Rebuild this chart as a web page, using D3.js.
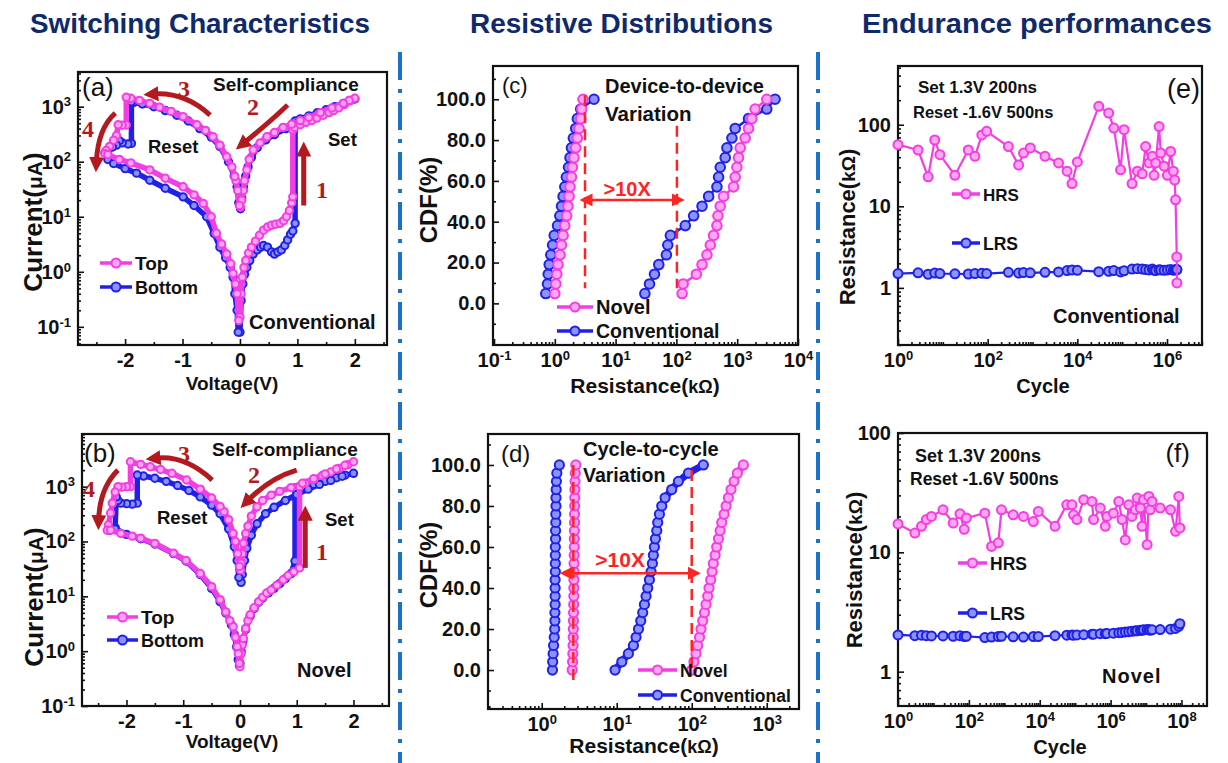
<!DOCTYPE html>
<meta charset="utf-8">
<style>
body { margin: 0; background: #fff; }
text { font-family: "Liberation Sans", Arial, sans-serif; }
.tick text { font-weight: bold; font-size: 20px; fill: #111; }
.tick line { stroke: #111; stroke-width: 1.6px; }
.frame { fill: none; stroke: #111; stroke-width: 2.2px; }
.lbl { font-weight: bold; fill: #111; }
.head { font-weight: bold; font-size: 27px; fill: #0f2a6a; }
.num { font-family: "Liberation Serif", "Times New Roman", serif; font-weight: bold; fill: #b3191f; }
</style>
<svg width="1228" height="763"></svg>
<script src="https://d3js.org/d3.v7.min.js"></script>
<script>

// (a) conventional I-V, [V, I(uA)] in sweep order
var aTop = [
 [0.00,0.15],[0.02,0.4],[0.04,0.8],[0.07,1.2],[0.10,1.6],[0.15,2.2],[0.20,2.8],[0.27,3.6],[0.34,4.6],[0.41,5.7],[0.48,6.5],[0.55,7.0],[0.62,7.3],[0.70,7.6],[0.76,8.5],[0.81,10],[0.86,13],[0.90,18],[0.92,23],
 [0.92,380],[0.95,420],[1.05,470],[1.15,520],[1.25,560],[1.34,620],[1.45,700],[1.55,780],[1.63,850],[1.72,950],[1.82,1100],[1.92,1280],[2.0,1420],
 [1.9,1300],[1.8,1150],[1.6,950],[1.4,780],[1.2,640],[1.05,560],[0.9,480],[0.75,420],[0.6,340],[0.47,285],[0.35,220],[0.23,163],[0.16,110],[0.12,71],[0.08,45],[0.06,30],[0.03,20],[0.01,15],
 [-0.01,16],[-0.04,30],[-0.07,45],[-0.09,54],[-0.14,80],[-0.23,123],[-0.35,200],[-0.47,285],[-0.6,370],[-0.75,470],[-0.99,660],[-1.2,820],[-1.4,980],[-1.57,1150],[-1.75,1300],[-1.9,1420],[-1.98,1480],
 [-1.98,465],[-2.05,460],[-2.12,470],[-2.15,300],[-2.2,245],[-2.27,190],[-2.33,160],[-2.35,140],
 [-2.3,135],[-2.1,110],[-1.9,95],[-1.57,71],[-1.3,50],[-0.99,35],[-0.8,25],[-0.64,17.5],[-0.5,10],[-0.41,5],[-0.32,3.2],[-0.23,2.1],[-0.16,1.4],[-0.12,0.93],[-0.08,0.6],[-0.05,0.4],[-0.02,0.13]
];
var aBottom = [
 [0.00,0.08],[0.02,0.3],[0.05,0.6],[0.08,0.9],[0.12,1.2],[0.17,1.6],[0.23,2.1],[0.30,2.5],[0.36,2.8],[0.41,3.0],[0.48,2.8],[0.55,2.3],[0.60,2.1],[0.66,2.3],[0.72,2.5],[0.78,3.0],[0.83,3.8],[0.88,4.8],[0.92,5.5],[0.96,7.6],
 [0.96,550],[1.05,600],[1.2,680],[1.35,780],[1.5,880],[1.65,1000],[1.8,1150],[1.92,1300],[2.0,1380],
 [1.8,1100],[1.6,900],[1.4,740],[1.2,600],[1.0,500],[0.8,400],[0.6,310],[0.45,250],[0.3,180],[0.2,120],[0.14,80],[0.1,55],[0.06,35],[0.03,22],[0.01,14],
 [-0.02,18],[-0.05,35],[-0.1,55],[-0.2,100],[-0.35,190],[-0.5,280],[-0.7,400],[-0.9,550],[-1.1,700],[-1.3,850],[-1.5,1000],[-1.7,1120],[-1.85,1200],[-1.89,1230],
 [-1.89,215],[-1.95,210],[-2.05,220],[-2.1,240],[-2.15,200],[-2.22,185],[-2.3,165],[-2.35,145],
 [-2.3,110],[-2.2,93],[-2.0,75],[-1.8,62],[-1.57,46],[-1.3,33],[-0.99,23],[-0.8,16],[-0.58,10],[-0.45,5],[-0.35,2.8],[-0.25,1.8],[-0.17,1.2],[-0.12,0.8],[-0.09,0.4],[-0.05,0.2],[-0.03,0.08]
];

// (b) novel I-V
var bTop = [
 [0.0,0.52],[0.02,0.9],[0.04,1.3],[0.06,1.7],[0.1,2.6],[0.14,3.6],[0.18,4.6],[0.25,6.2],[0.33,8.0],[0.4,9.6],[0.47,11.5],[0.55,13],[0.65,16],[0.76,20],[0.85,24],[0.95,28],[1.05,33],
 [1.05,1000],[1.15,1150],[1.3,1350],[1.45,1600],[1.6,1850],[1.75,2150],[1.9,2500],[2.0,2850],
 [1.85,2450],[1.7,2100],[1.5,1700],[1.3,1400],[1.1,1150],[0.9,960],[0.7,820],[0.55,700],[0.4,560],[0.3,430],[0.2,290],[0.14,190],[0.1,140],[0.06,93],[0.04,60],[0.02,40],[0.01,30],
 [-0.01,35],[-0.04,60],[-0.08,100],[-0.12,140],[-0.2,250],[-0.28,350],[-0.35,435],[-0.5,620],[-0.7,900],[-0.94,1320],[-1.2,1750],[-1.4,2050],[-1.58,2300],[-1.75,2550],[-1.93,2850],
 [-1.93,1000],[-2.0,1000],[-2.08,980],[-2.15,1000],[-2.2,800],[-2.25,500],[-2.28,330],[-2.32,200],[-2.34,160],
 [-2.28,160],[-2.1,140],[-1.9,125],[-1.75,115],[-1.5,92],[-1.17,61],[-0.95,45],[-0.7,26],[-0.5,15],[-0.35,8.7],[-0.25,5.2],[-0.18,3.6],[-0.12,2.8],[-0.08,1.8],[-0.05,1.2],[-0.03,0.9],[-0.01,0.6]
];
var bBottom = [
 [0.0,0.6],[0.02,1.0],[0.05,1.5],[0.1,2.5],[0.18,4.4],[0.25,6],[0.33,7.8],[0.4,9.3],[0.5,11.5],[0.6,14],[0.7,17],[0.8,21],[0.9,26],[0.97,44],
 [0.97,950],[1.1,1000],[1.3,1100],[1.5,1250],[1.7,1450],[1.85,1620],[2.0,1750],
 [1.8,1550],[1.6,1300],[1.4,1100],[1.2,900],[1.0,720],[0.8,560],[0.6,420],[0.45,320],[0.3,210],[0.2,130],[0.12,75],[0.08,45],[0.04,25],[0.02,18],
 [-0.02,22],[-0.05,45],[-0.1,80],[-0.2,170],[-0.35,320],[-0.5,460],[-0.7,650],[-0.9,850],[-1.1,1050],[-1.3,1250],[-1.5,1420],[-1.7,1560],[-1.81,1630],
 [-1.81,500],[-1.9,480],[-2.0,490],[-2.1,500],[-2.15,560],[-2.18,650],[-2.2,180],[-2.3,160],
 [-2.2,170],[-2.0,135],[-1.75,112],[-1.5,90],[-1.17,60],[-0.95,44],[-0.7,25],[-0.5,14],[-0.35,8],[-0.25,5],[-0.15,3],[-0.1,2],[-0.06,1.2],[-0.03,0.7],[-0.01,0.55]
];

// (c) device-to-device CDF
var cCdf = [4.8, 9.5, 14.3, 19.0, 23.8, 28.6, 33.3, 38.1, 42.9, 47.6, 52.4, 57.1, 61.9, 66.7, 71.4, 76.2, 81.0, 85.7, 90.5, 95.2, 100];
var cNovelLRS = [1.0, 1.04, 1.08, 1.13, 1.22, 1.29, 1.37, 1.46, 1.57, 1.65, 1.72, 1.78, 1.88, 1.95, 2.07, 2.21, 2.35, 2.51, 2.67, 2.77, 2.91];
var cNovelHRS = [124, 129, 213, 264, 318, 361, 409, 464, 482, 526, 597, 871, 927, 988, 1052, 1120, 1352, 1535, 1740, 1972, 3063];
var cConvLRS = [0.71, 0.76, 0.78, 0.81, 0.86, 0.92, 0.98, 1.11, 1.21, 1.29, 1.37, 1.46, 1.55, 1.68, 1.78, 1.88, 2.02, 2.21, 2.35, 2.67, 4.41];
var cConvHRS = [30.3, 36.1, 43.6, 51.3, 68.5, 72.1, 79.7, 140, 192, 264, 339, 464, 494, 526, 635, 677, 818, 927, 1535, 3063, 4199];

// (d) cycle-to-cycle CDF
var dCdf = [0, 4, 8, 12, 16, 20, 24, 28, 32, 36, 40, 44, 48, 52, 56, 60, 64, 68, 72, 76, 80, 84, 88, 92, 96, 100];
var dNovelLRS = [2.55, 2.58, 2.60, 2.62, 2.63, 2.64, 2.65, 2.66, 2.67, 2.68, 2.68, 2.69, 2.70, 2.70, 2.71, 2.72, 2.72, 2.73, 2.74, 2.74, 2.75, 2.76, 2.77, 2.78, 2.80, 2.85];
var dNovelHRS = [100, 107, 114, 120, 127, 133, 140, 148, 155, 163, 170, 179, 187, 194, 205, 215, 227, 239, 251, 270, 287, 308, 334, 367, 406, 488];
var dConvLRS = [1.39, 1.40, 1.42, 1.44, 1.47, 1.49, 1.50, 1.50, 1.51, 1.51, 1.51, 1.51, 1.52, 1.52, 1.52, 1.52, 1.53, 1.53, 1.54, 1.54, 1.55, 1.55, 1.56, 1.57, 1.59, 1.72];
var dConvHRS = [9.5, 11.7, 14.3, 16.7, 18.1, 19.5, 20.9, 22.2, 23.4, 24.6, 25.9, 27.3, 28.7, 29.9, 30.8, 31.8, 32.8, 34.2, 35.2, 37.1, 39.8, 44.1, 54.1, 66.4, 90.3, 143];

// (e) conventional endurance
var eCycle = [1, 2.8, 4.7, 6.6, 8.6, 18.6, 37, 52, 74, 95, 290, 490, 630, 890, 1900, 3800, 5900, 7600, 10000, 30000, 50000, 65000, 92000, 110000, 166000, 218000, 280000, 333000, 397000, 470000, 514000, 560000, 665000, 725000, 860000, 1.02e6, 1.2e6, 1.38e6, 1.48e6, 1.55e6, 1.65e6, 1.66e6];
var eHRS = [57, 49, 23, 65, 43, 24, 49, 41, 75, 83, 54, 32, 45, 52, 41, 34, 27, 19, 35, 168, 139, 91, 28, 87, 19, 27, 25, 54, 34, 41, 24, 34, 95, 45, 31, 24, 47, 27, 21, 12, 2.4, 1.15];
var eLRS = [1.50, 1.53, 1.47, 1.52, 1.50, 1.49, 1.48, 1.50, 1.51, 1.50, 1.55, 1.52, 1.54, 1.53, 1.55, 1.57, 1.63, 1.66, 1.64, 1.58, 1.60, 1.63, 1.57, 1.62, 1.70, 1.72, 1.70, 1.68, 1.66, 1.70, 1.65, 1.63, 1.67, 1.66, 1.64, 1.66, 1.68, 1.65, 1.66, 1.67, 1.68, 1.68];

// (f) novel endurance
var fCycle = [1, 3, 4.6, 6.3, 8.8, 18.6, 36, 56, 74, 85, 282, 437, 676, 832, 1780, 3460, 6600, 9100, 27000, 58000, 81000, 90000, 112000, 174000, 297000, 331000, 510000, 708000, 790000, 1.2e6, 1.7e6, 2.1e6, 2.6e6, 3.24e6, 4e6, 5e6, 5.6e6, 6.9e6, 7.7e6, 8.5e6, 1.07e7, 1.2e7, 1.3e7, 1.48e7, 2.5e7, 4.9e7, 6.8e7, 8.4e7, 9e7];
var fHRS = [17.3, 14.5, 16.5, 18.8, 20, 22.7, 17.6, 21, 15.6, 19.4, 21.3, 11.2, 12, 22.7, 20.6, 20, 18.1, 22, 16.5, 25, 25, 20.6, 18.8, 27.6, 26.7, 18.8, 23.5, 16.5, 20, 21.3, 26.7, 18.8, 12.7, 25, 20, 22.7, 28.5, 23.5, 16.5, 27.6, 11.6, 29.4, 22.7, 26.7, 23.5, 22.7, 15, 29.4, 16];
var fLRS = [2.03, 2.0, 2.02, 2.0, 1.99, 1.99, 1.98, 2.0, 1.97, 1.98, 1.93, 1.95, 1.97, 1.98, 1.96, 1.95, 1.97, 1.97, 2.0, 2.02, 2.03, 2.02, 2.03, 2.04, 2.06, 2.06, 2.08, 2.08, 2.09, 2.1, 2.12, 2.13, 2.15, 2.16, 2.18, 2.2, 2.2, 2.22, 2.22, 2.24, 2.25, 2.25, 2.22, 2.24, 2.25, 2.27, 2.3, 2.4, 2.52];

var pink = "#f23ee2", pinkIn = "#ffa6f1",
    blue = "#2020e6", blueIn = "#8c93ff",
    dark = "#b3191f", red = "#ff2424";

var svg = d3.select("svg");

var defs = svg.append("defs");
function arrowHead(id, col, w) {
  defs.append("marker").attr("id", id)
      .attr("viewBox", "0 0 10 10").attr("refX", 3).attr("refY", 5)
      .attr("markerUnits", "userSpaceOnUse").attr("markerWidth", w).attr("markerHeight", w)
      .attr("orient", "auto-start-reverse")
    .append("path").attr("d", "M0,0 L10,5 L0,10 z").attr("fill", col);
}
arrowHead("ahDark", dark, 15);
arrowHead("ahRed", red, 13);

// headings
[["Switching Characteristics", 30, 340], ["Resistive Distributions", 470, 303], ["Endurance performances", 862, 350]]
  .forEach(function(h) {
    svg.append("text").attr("class", "head").attr("x", h[1]).attr("y", 33)
       .attr("textLength", h[2]).attr("lengthAdjust", "spacingAndGlyphs").text(h[0]);
  });

// dash-dot separators
[400, 818].forEach(function(x) {
  svg.append("line").attr("x1", x).attr("x2", x).attr("y1", 52).attr("y2", 763)
     .attr("stroke", "#1b73c9").attr("stroke-width", 4).attr("stroke-dasharray", "28,9,4,9");
});

function logMinors(lo, hi) {
  var out = [];
  for (var k = Math.floor(Math.log10(lo)); k <= Math.ceil(Math.log10(hi)); k++)
    for (var m = 2; m <= 9; m++) {
      var v = m * Math.pow(10, k);
      if (v > lo && v < hi) out.push(v);
    }
  return out;
}

function supLabels(ax, small) {
  ax.selectAll(".tick text").text(null).each(function(d) {
    var t = d3.select(this);
    t.append("tspan").text("10");
    t.append("tspan").attr("dy", "-0.55em").style("font-size", (small || 13) + "px").text(Math.round(Math.log10(d)));
  });
}

function panel(box, x, y) {
  var g = svg.append("g");
  x.range([box.x0, box.x1]);
  y.range([box.y1, box.y0]);
  return { g: g, box: box, x: x, y: y };
}

function axes(p, o) {
  var b = p.box;
  p.g.append("g").attr("transform", "translate(0," + b.y1 + ")")
    .call(d3.axisBottom(p.x).tickValues(o.xMin).tickSize(-3).tickFormat(""))
    .call(function(a) { a.select(".domain").remove(); });
  var xa = p.g.append("g").attr("transform", "translate(0," + b.y1 + ")")
    .call(d3.axisBottom(p.x).tickValues(o.xMaj).tickSize(-6).tickPadding(8).tickFormat(o.xFmt || String))
    .call(function(a) { a.select(".domain").remove(); });
  p.g.append("g").attr("transform", "translate(" + b.x0 + ",0)")
    .call(d3.axisLeft(p.y).tickValues(o.yMin).tickSize(-3).tickFormat(""))
    .call(function(a) { a.select(".domain").remove(); });
  var ya = p.g.append("g").attr("transform", "translate(" + b.x0 + ",0)")
    .call(d3.axisLeft(p.y).tickValues(o.yMaj).tickSize(-6).tickPadding(7).tickFormat(o.yFmt || String))
    .call(function(a) { a.select(".domain").remove(); });
  if (o.xLog) supLabels(xa);
  if (o.yLog) supLabels(ya);
  p.g.append("rect").attr("class", "frame")
    .attr("x", b.x0).attr("y", b.y0).attr("width", b.x1 - b.x0).attr("height", b.y1 - b.y0);
}

function series(p, pts, col, light, lw, r) {
  var line = d3.line().x(function(d) { return p.x(d[0]); }).y(function(d) { return p.y(d[1]); });
  p.g.append("path").datum(pts).attr("d", line)
    .attr("fill", "none").attr("stroke", col).attr("stroke-width", lw).attr("stroke-linejoin", "round");
  p.g.append("g").selectAll("circle").data(pts).join("circle")
    .attr("cx", function(d) { return p.x(d[0]); })
    .attr("cy", function(d) { return p.y(d[1]); })
    .attr("r", r).attr("fill", light).attr("stroke", col).attr("stroke-width", 2);
}

function zip(a, b) { return a.map(function(v, i) { return [v, b[i]]; }); }

function label(p, txt, x, y, size, opt) {
  opt = opt || {};
  return p.g.append("text").attr("class", opt.cls || "lbl").attr("x", x).attr("y", y)
    .attr("text-anchor", opt.anchor || "start")
    .style("font-size", size + "px").style("font-weight", opt.normal ? "normal" : null).text(txt);
}

function legendItem(p, x0, x1, y, col, light, txt, size) {
  p.g.append("line").attr("x1", x0).attr("x2", x1).attr("y1", y).attr("y2", y).attr("stroke", col).attr("stroke-width", 3.5);
  p.g.append("circle").attr("cx", (x0 + x1) / 2).attr("cy", y).attr("r", 4.5).attr("fill", light).attr("stroke", col).attr("stroke-width", 2);
  label(p, txt, x1 + 3, y + 7, size);
}

function yTitle(x, y, main, unit, size, usize) {
  var t = svg.append("text").attr("class", "lbl").attr("text-anchor", "middle")
    .attr("transform", "translate(" + x + "," + y + ") rotate(-90)").style("font-size", size + "px");
  t.append("tspan").text(main + "(");
  t.append("tspan").style("font-size", usize + "px").text(unit);
  t.append("tspan").text(")");
}

function xTitle(x, y, main, unit, size, usize) {
  var t = svg.append("text").attr("class", "lbl").attr("text-anchor", "middle")
    .attr("x", x).attr("y", y).style("font-size", size + "px");
  t.append("tspan").text(main + (unit ? "(" : ""));
  if (unit) {
    t.append("tspan").style("font-size", usize + "px").text(unit);
    t.append("tspan").text(")");
  }
}

function curveArrow(p, a, c, b, col, mk, w) {
  var d = "M" + p.x(a[0]) + "," + p.y(a[1]) + " Q" + p.x(c[0]) + "," + p.y(c[1]) + " " + p.x(b[0]) + "," + p.y(b[1]);
  p.g.append("path").attr("d", d).attr("fill", "none").attr("stroke", col)
    .attr("stroke-width", w).attr("marker-end", "url(#" + mk + ")");
}

var ivMinX = [-2.5, -1.5, -0.5, 0.5, 1.5, 2.5];

// ---------- (a)
var pa = panel({ x0: 78, x1: 387, y0: 72, y1: 345 },
  d3.scaleLinear().domain([-2.82, 2.56]), d3.scaleLog().domain([Math.pow(10, -1.33), Math.pow(10, 3.63)]));
axes(pa, { xMaj: [-2, -1, 0, 1, 2], xMin: ivMinX, yMaj: [0.1, 1, 10, 100, 1000], yMin: logMinors(pa.y.domain()[0], pa.y.domain()[1]), yLog: true });
series(pa, aBottom, blue, blueIn, 5.5, 3.7);
series(pa, aTop, pink, pinkIn, 5.5, 3.7);
curveArrow(pa, [1.11, 16], [1.11, 60], [1.11, 150], dark, "ahDark", 5);
curveArrow(pa, [0.83, 1070], [0.52, 525], [0.07, 220], dark, "ahDark", 5);
curveArrow(pa, [-0.52, 700], [-0.96, 1850], [-1.5, 1700], dark, "ahDark", 5);
curveArrow(pa, [-2.17, 765], [-2.47, 410], [-2.5, 100], dark, "ahDark", 5);
label(pa, "(a)", 82, 96, 26, { normal: true });
label(pa, "Self-compliance", 213, 91, 19);
label(pa, "Reset", 148, 153, 18.5);
label(pa, "Set", 328, 146, 18.5);
label(pa, "Conventional", 249, 329, 20);
label(pa, "1", 316, 198, 24, { cls: "num" });
label(pa, "2", 247, 115, 24, { cls: "num" });
label(pa, "3", 178, 97, 24, { cls: "num" });
label(pa, "4", 82, 137, 24, { cls: "num" });
legendItem(pa, 100, 132, 263, pink, pinkIn, "Top", 19);
legendItem(pa, 100, 132, 287, blue, blueIn, "Bottom", 18);
yTitle(42, 222, "Current", "\u03bcA", 26, 21);
xTitle(232, 390, "Voltage(V)", null, 19);

// ---------- (b)
var pb = panel({ x0: 82, x1: 389, y0: 434, y1: 706 },
  d3.scaleLinear().domain([-2.784, 2.626]), d3.scaleLog().domain([0.1, Math.pow(10, 3.96)]));
axes(pb, { xMaj: [-2, -1, 0, 1, 2], xMin: ivMinX, yMaj: [0.1, 1, 10, 100, 1000], yMin: logMinors(pb.y.domain()[0], pb.y.domain()[1]), yLog: true });
series(pb, bBottom, blue, blueIn, 5.5, 3.7);
series(pb, bTop, pink, pinkIn, 5.5, 3.7);
curveArrow(pb, [1.15, 33], [1.15, 100], [1.15, 290], dark, "ahDark", 5);
curveArrow(pb, [1.0, 2000], [0.53, 1440], [0.14, 560], dark, "ahDark", 5);
curveArrow(pb, [-0.49, 1320], [-0.97, 3770], [-1.48, 3300], dark, "ahDark", 5);
curveArrow(pb, [-2.15, 2000], [-2.47, 950], [-2.49, 250], dark, "ahDark", 5);
label(pb, "(b)", 84, 462, 26, { normal: true });
label(pb, "Self-compliance", 212, 456, 19);
label(pb, "Reset", 157, 524, 18.5);
label(pb, "Set", 325, 526, 18.5);
label(pb, "Novel", 297, 677, 20);
label(pb, "1", 316, 560, 24, { cls: "num" });
label(pb, "2", 248, 483, 24, { cls: "num" });
label(pb, "3", 178, 462, 24, { cls: "num" });
label(pb, "4", 83, 497, 24, { cls: "num" });
legendItem(pb, 107, 138, 617, pink, pinkIn, "Top", 19);
legendItem(pb, 107, 138, 640, blue, blueIn, "Bottom", 18);
yTitle(43, 597, "Current", "\u03bcA", 26, 21);
xTitle(232, 748, "Voltage(V)", null, 19);

// ---------- (c)
var pc = panel({ x0: 493, x1: 798, y0: 66, y1: 345 },
  d3.scaleLog().domain([0.1, 1e4]), d3.scaleLinear().domain([-20.4, 116.3]));
pc.x.range([494, 798]);
axes(pc, { xMaj: [0.1, 1, 10, 100, 1000, 10000], xMin: logMinors(0.1, 1e4), xLog: true,
  yMaj: [0, 20, 40, 60, 80, 100], yMin: [-10, 10, 30, 50, 70, 90, 110], yFmt: d3.format(".1f") });
series(pc, zip(cConvLRS, cCdf), blue, blueIn, 2.5, 4.8);
series(pc, zip(cConvHRS, cCdf), blue, blueIn, 2.5, 4.8);
series(pc, zip(cNovelLRS, cCdf), pink, pinkIn, 2.5, 4.8);
series(pc, zip(cNovelHRS, cCdf), pink, pinkIn, 2.5, 4.8);
[[3.14, 102, 7.4], [102, 87, 7.4]].forEach(function(v) {
  pc.g.append("line").attr("x1", pc.x(v[0])).attr("x2", pc.x(v[0])).attr("y1", pc.y(v[1])).attr("y2", pc.y(v[2]))
    .attr("stroke", red).attr("stroke-width", 2.5).attr("stroke-dasharray", "11,6");
});
pc.g.append("line").attr("x1", pc.x(3.6)).attr("x2", pc.x(97)).attr("y1", pc.y(50.7)).attr("y2", pc.y(50.7))
  .attr("stroke", red).attr("stroke-width", 2.5).attr("marker-start", "url(#ahRed)").attr("marker-end", "url(#ahRed)");
label(pc, ">10X", pc.x(15.5), pc.y(52.6), 20, { anchor: "middle" }).style("fill", red);
label(pc, "(c)", 502, 93, 22, { normal: true });
label(pc, "Device-to-device", 605, 93, 20);
label(pc, "Variation", 605, 121, 20.5);
legendItem(pc, 557, 593, 307, pink, pinkIn, "Novel", 20);
legendItem(pc, 557, 593, 331, blue, blueIn, "Conventional", 19.5);
yTitle(437, 200, "CDF", "%", 24, 24);
xTitle(645, 393, "Resistance", "k\u03a9", 21, 18);

// ---------- (d)
var pd = panel({ x0: 488, x1: 799, y0: 434, y1: 709 },
  d3.scaleLog().domain([Math.pow(10, -0.716), Math.pow(10, 3.43)]), d3.scaleLinear().domain([-19, 115.1]));
axes(pd, { xMaj: [1, 10, 100, 1000], xMin: logMinors(pd.x.domain()[0], pd.x.domain()[1]), xLog: true,
  yMaj: [0, 20, 40, 60, 80, 100], yMin: [-10, 10, 30, 50, 70, 90, 110], yFmt: d3.format(".1f") });
series(pd, zip(dConvLRS, dCdf), blue, blueIn, 7, 4.6);
series(pd, zip(dConvHRS, dCdf), blue, blueIn, 7, 4.6);
series(pd, zip(dNovelLRS, dCdf), pink, pinkIn, 7, 4.6);
series(pd, zip(dNovelHRS, dCdf), pink, pinkIn, 7, 4.6);
[[2.64, 100, -6.5], [100, 97.5, 0]].forEach(function(v) {
  pd.g.append("line").attr("x1", pd.x(v[0])).attr("x2", pd.x(v[0])).attr("y1", pd.y(v[1])).attr("y2", pd.y(v[2]))
    .attr("stroke", red).attr("stroke-width", 2.5).attr("stroke-dasharray", "11,6");
});
pd.g.append("line").attr("x1", pd.x(2.3)).attr("x2", pd.x(100)).attr("y1", pd.y(47.2)).attr("y2", pd.y(47.2))
  .attr("stroke", red).attr("stroke-width", 2.5).attr("marker-start", "url(#ahRed)").attr("marker-end", "url(#ahRed)");
label(pd, ">10X", pd.x(11.1), pd.y(50.4), 21, { anchor: "middle" }).style("fill", red);
label(pd, "(d)", 501, 462, 24, { normal: true });
label(pd, "Cycle-to-cycle", 583, 456, 20);
label(pd, "Variation", 583, 482, 19.5);
legendItem(pd, 638, 677, 670, pink, pinkIn, "Novel", 17.5);
legendItem(pd, 638, 677, 695, blue, blueIn, "Conventional", 17.5);
yTitle(437, 565, "CDF", "%", 24, 24);
xTitle(644, 753, "Resistance", "k\u03a9", 21, 18);

// ---------- (e)
var pe = panel({ x0: 898, x1: 1202, y0: 66, y1: 345 },
  d3.scaleLog().domain([1, Math.pow(10, 6.78)]), d3.scaleLog().domain([Math.pow(10, -0.70), Math.pow(10, 2.72)]));
axes(pe, { xMaj: [1, 100, 1e4, 1e6], xMin: logMinors(1, Math.pow(10, 6.78)).concat([10, 1000, 1e5]), xLog: true,
  yMaj: [1, 10, 100], yMin: logMinors(pe.y.domain()[0], pe.y.domain()[1]) });
series(pe, zip(eCycle, eLRS), blue, blueIn, 2.2, 4.5);
series(pe, zip(eCycle, eHRS), pink, pinkIn, 2.2, 4.5);
label(pe, "Set 1.3V 200ns", 918, 93, 17);
label(pe, "Reset -1.6V 500ns", 913, 118, 16.5);
label(pe, "(e)", 1200, 98, 27, { normal: true, anchor: "end" });
legendItem(pe, 952, 980, 194, pink, pinkIn, "HRS", 17);
legendItem(pe, 952, 980, 243, blue, blueIn, "LRS", 17.5);
label(pe, "Conventional", 1053, 323, 20);
yTitle(855, 227, "Resistance", "k\u03a9", 22, 19);
xTitle(1043, 393, "Cycle", null, 20);

// ---------- (f)
var pf = panel({ x0: 898, x1: 1207, y0: 433, y1: 706 },
  d3.scaleLog().domain([1, Math.pow(10, 8.72)]), d3.scaleLog().domain([Math.pow(10, -0.288), 100]));
axes(pf, { xMaj: [1, 100, 1e4, 1e6, 1e8], xMin: logMinors(1, Math.pow(10, 8.72)).concat([10, 1000, 1e5, 1e7]), xLog: true,
  yMaj: [1, 10, 100], yMin: logMinors(pf.y.domain()[0], 100) });
series(pf, zip(fCycle, fLRS), blue, blueIn, 2.2, 4.5);
series(pf, zip(fCycle, fHRS), pink, pinkIn, 2.2, 4.5);
label(pf, "Set 1.3V 200ns", 915, 462, 18);
label(pf, "Reset -1.6V 500ns", 910, 485, 17.5);
label(pf, "(f)", 1190, 462, 26, { normal: true, anchor: "end" });
legendItem(pf, 958, 987, 563, pink, pinkIn, "HRS", 17.5);
legendItem(pf, 958, 987, 613, blue, blueIn, "LRS", 17.5);
label(pf, "Novel", 1102, 683, 20).style("letter-spacing", "1px");
yTitle(862, 570, "Resistance", "k\u03a9", 22, 19);
xTitle(1060, 754, "Cycle", null, 20);

</script>
